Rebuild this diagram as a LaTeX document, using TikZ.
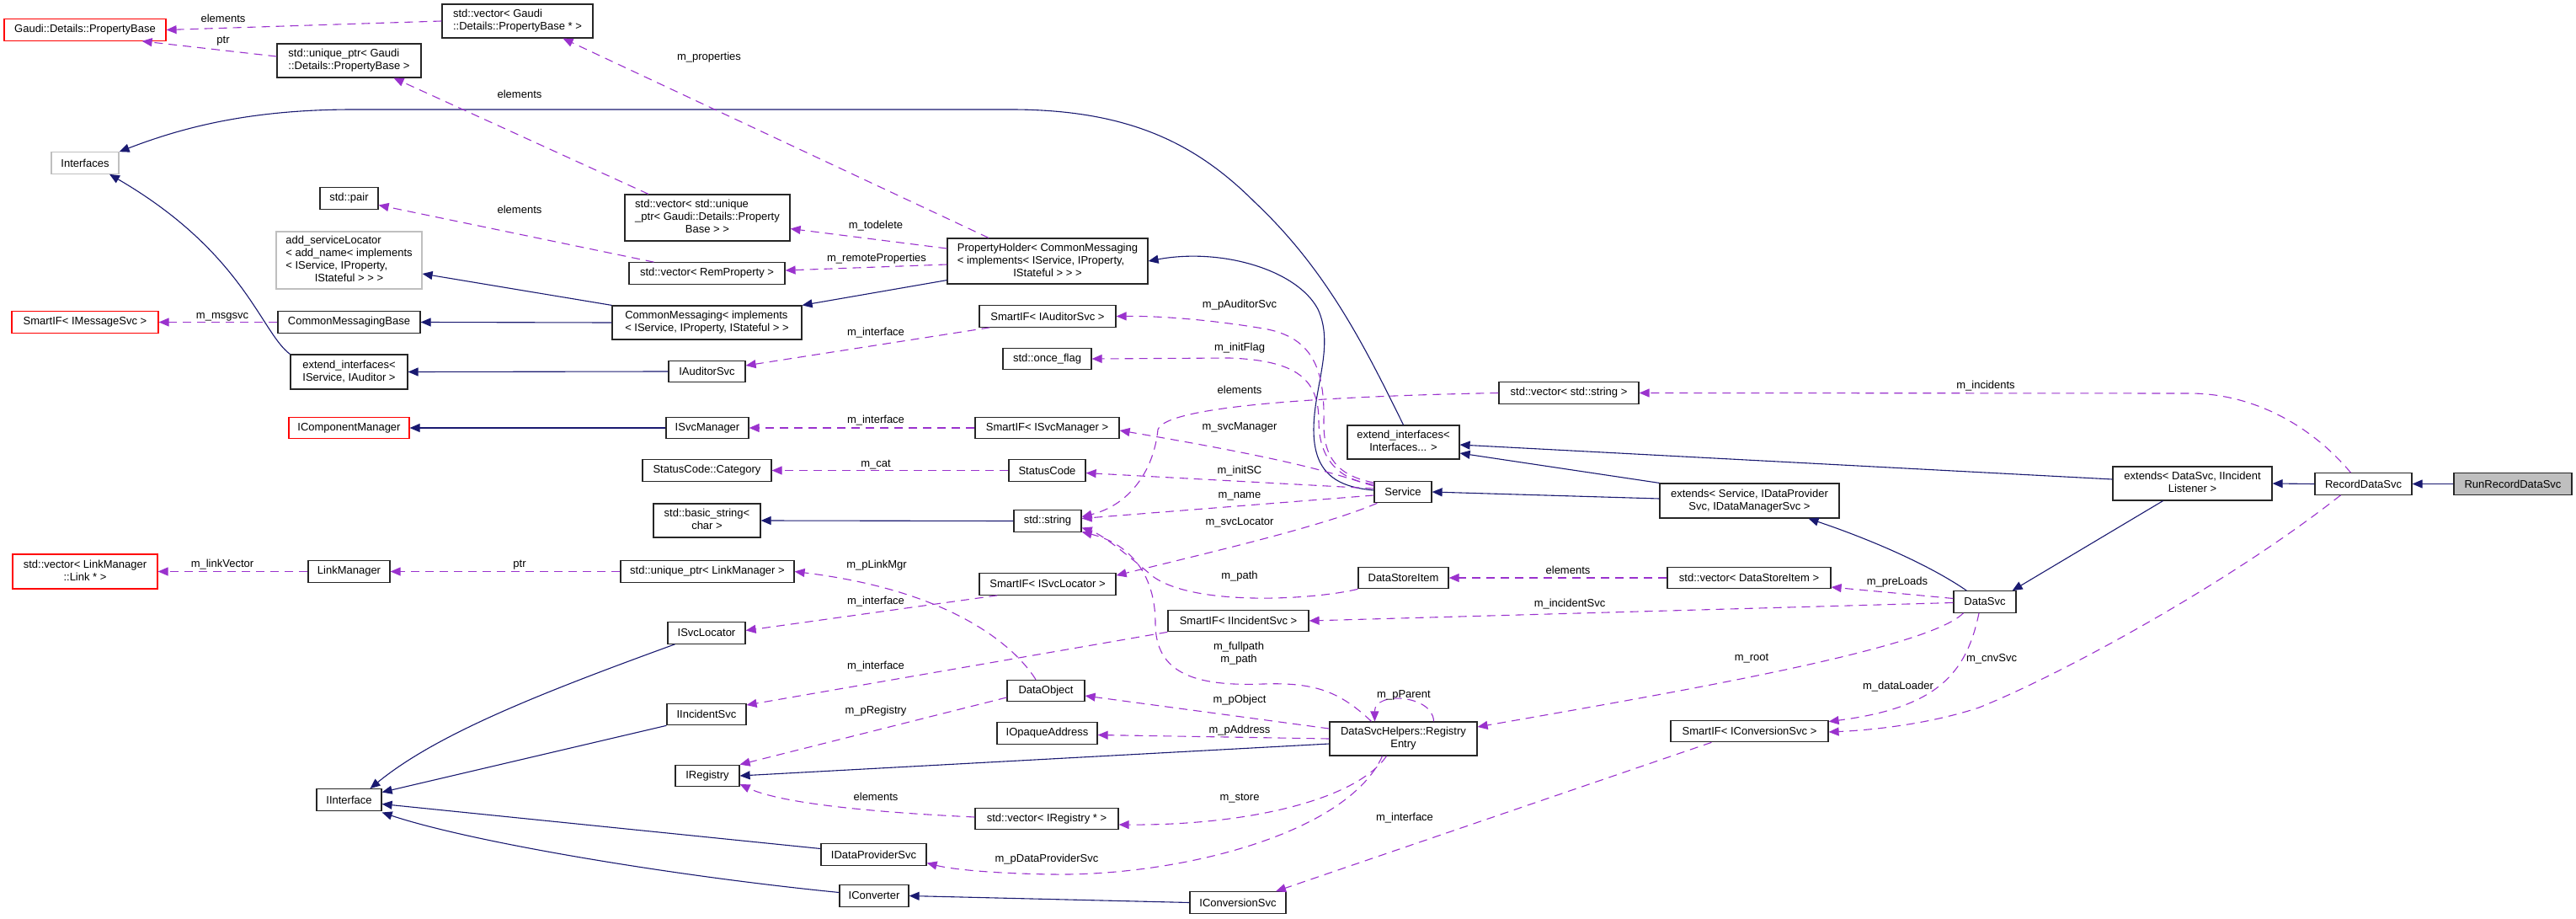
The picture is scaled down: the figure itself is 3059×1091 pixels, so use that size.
\documentclass[tikz,border=0pt]{standalone}
\usepackage{fontspec}
\setmainfont{Liberation Sans}
\usetikzlibrary{arrows.meta}
\definecolor{inhblue}{HTML}{191970}
\definecolor{usepurple}{HTML}{9A32CD}
\definecolor{nodoc}{HTML}{BFBFBF}
\definecolor{ownfill}{HTML}{BFBFBF}
% multi-line class names: lines left, last line centred
\newcommand{\lns}[1]{\begin{tabular}{@{}l@{}}#1\end{tabular}}
\newcommand{\lastln}[1]{\multicolumn{1}{@{}c@{}}{#1}}

\begin{document}
\begin{tikzpicture}[x=1pt, y=-1pt]
\tikzstyle{every node}=[font=\fontsize{13}{15}\selectfont]
\tikzstyle{cls}=[draw=black!85, line width=1.2pt, fill=white,
                 inner sep=0pt, minimum height=25.5pt]
\tikzstyle{clsred}=[cls, draw=red]
\tikzstyle{clsgray}=[cls, draw=nodoc]
\tikzstyle{lbl}=[inner sep=0pt, text height=9.5pt, text depth=3pt]
\tikzstyle{inh}=[draw=inhblue, line width=1.1pt,
                 -{Triangle[length=12pt,width=10pt]}]
\tikzstyle{usg}=[draw=usepurple, line width=1.1pt, dash pattern=on 10pt off 7pt,
                 -{Triangle[length=12pt,width=10pt]}]
\useasboundingbox (0,0) rectangle (3059,1091);

% first column
\node[clsred, minimum width=192pt] (PropBase) at (101,35.5) {Gaudi::Details::PropertyBase};
\node[clsgray, minimum width=80pt] (Interfaces) at (101,193.5) {Interfaces};
\node[clsred, minimum width=174pt] (SmartMsg) at (101,382.5) {SmartIF< IMessageSvc >};
\node[clsred, minimum width=172pt, minimum height=41pt] (VecLink) at (101,678.5)
  {\lns{std::vector< LinkManager\\\lastln{::Link * >}}};

% second column
\node[cls, minimum width=171pt, minimum height=40pt] (UPtrProp) at (414.5,72)
  {\lns{std::unique\_ptr< Gaudi\\::Details::PropertyBase >}};
\node[cls, minimum width=179pt, minimum height=40pt] (VecPropBase) at (614.5,25)
  {\lns{std::vector< Gaudi\\::Details::PropertyBase * >}};
\node[cls, minimum width=69pt] (Pair) at (414.5,235.5) {std::pair};
\node[clsgray, minimum width=173pt, minimum height=68pt] (AddSvcLoc) at (414.5,309)
  {\lns{add\_serviceLocator\\< add\_name< implements\\< IService, IProperty,\\\lastln{IStateful > > >}}};
\node[cls, minimum width=169pt] (CMBase) at (414.5,382.5) {CommonMessagingBase};
\node[cls, minimum width=139pt, minimum height=41pt] (ExtSvcAud) at (414.5,441.5)
  {\lns{extend\_interfaces<\\\lastln{IService, IAuditor >}}};
\node[clsred, minimum width=143pt] (CompMgr) at (414.5,508) {IComponentManager};
\node[cls, minimum width=97pt] (LinkMgr) at (414.5,678.5) {LinkManager};
\node[cls, minimum width=77pt] (IInterface) at (414.5,949.5) {IInterface};

% third column
\node[cls, minimum width=196pt, minimum height=55pt] (VecUPtr) at (840,258.5)
  {\lns{std::vector< std::unique\\\_ptr< Gaudi::Details::Property\\\lastln{Base > >}}};
\node[cls, minimum width=185pt] (VecRemProp) at (839.5,324.5) {std::vector< RemProperty >};
\node[cls, minimum width=225pt, minimum height=40pt] (CommonMsg) at (839.5,383)
  {\lns{CommonMessaging< implements\\< IService, IProperty, IStateful > >}};
\node[cls, minimum width=91pt] (IAuditorSvc) at (839.5,441) {IAuditorSvc};
\node[cls, minimum width=98pt] (ISvcManager) at (840,508) {ISvcManager};
\node[cls, minimum width=153pt] (StatusCat) at (839.5,558.5) {StatusCode::Category};
\node[cls, minimum width=127pt, minimum height=40pt] (BasicString) at (839.5,618)
  {\lns{std::basic\_string<\\\lastln{char >}}};
\node[cls, minimum width=206pt] (UPtrLink) at (840,678.5) {std::unique\_ptr< LinkManager >};
\node[cls, minimum width=92pt] (ISvcLocator) at (839,751.5) {ISvcLocator};
\node[cls, minimum width=94pt] (IIncidentSvc) at (839,848) {IIncidentSvc};
\node[cls, minimum width=76pt] (IRegistry) at (840,921) {IRegistry};
\node[cls, minimum width=125pt] (IDataProviderSvc) at (1037.5,1014.5) {IDataProviderSvc};
\node[cls, minimum width=82pt] (IConverter) at (1038,1063.5) {IConverter};

% fourth column
\node[cls, minimum width=238pt, minimum height=54pt] (PropHolder) at (1244,310)
  {\lns{PropertyHolder< CommonMessaging\\< implements< IService, IProperty,\\\lastln{IStateful > > >}}};
\node[cls, minimum width=162pt] (SmartAud) at (1244,375.5) {SmartIF< IAuditorSvc >};
\node[cls, minimum width=105pt] (OnceFlag) at (1243.5,426) {std::once\_flag};
\node[cls, minimum width=171pt] (SmartSvcMgr) at (1243.5,508) {SmartIF< ISvcManager >};
\node[cls, minimum width=91pt] (StatusCode) at (1243.5,558.5) {StatusCode};
\node[cls, minimum width=80pt] (StdString) at (1244,618.5) {std::string};
\node[cls, minimum width=162pt] (SmartLoc) at (1244,693.5) {SmartIF< ISvcLocator >};
\node[cls, minimum width=92pt] (DataObject) at (1242,820) {DataObject};
\node[cls, minimum width=119pt] (IOpaque) at (1243.5,870.5) {IOpaqueAddress};
\node[cls, minimum width=170pt] (VecIReg) at (1243,972) {std::vector< IRegistry * >};
\node[cls, minimum width=167pt] (SmartInc) at (1470.5,737) {SmartIF< IIncidentSvc >};
\node[cls, minimum width=114pt] (IConvSvc) at (1470,1071.5) {IConversionSvc};

% right part
\node[cls, minimum width=133pt, minimum height=40pt] (ExtIfaces) at (1666.5,525)
  {\lns{extend\_interfaces<\\\lastln{Interfaces... >}}};
\node[cls, minimum width=68pt] (Service) at (1666,584) {Service};
\node[cls, minimum width=107pt] (DataStoreItem) at (1666.5,686) {DataStoreItem};
\node[cls, minimum width=175pt, minimum height=40pt] (RegEntry) at (1666.5,877)
  {\lns{DataSvcHelpers::Registry\\\lastln{Entry}}};
\node[cls, minimum width=166pt] (VecString) at (1863,466.5) {std::vector< std::string >};
\node[cls, minimum width=213pt, minimum height=41pt] (ExtSvc) at (2077.5,594.5)
  {\lns{extends< Service, IDataProvider\\\lastln{Svc, IDataManagerSvc >}}};
\node[cls, minimum width=194pt] (VecDSI) at (2077,686) {std::vector< DataStoreItem >};
\node[cls, minimum width=187pt] (SmartCnv) at (2077.5,868) {SmartIF< IConversionSvc >};
\node[cls, minimum width=74pt] (DataSvc) at (2357,714.5) {DataSvc};
\node[cls, minimum width=189pt, minimum height=40pt] (ExtData) at (2603.5,574)
  {\lns{extends< DataSvc, IIncident\\\lastln{Listener >}}};
\node[cls, minimum width=115pt] (RecordDataSvc) at (2806.5,574.5) {RecordDataSvc};
\node[cls, fill=ownfill, minimum width=140pt] (RunRecord) at (2984,574.5) {RunRecordDataSvc};

% inheritance
\draw[inh] (ExtIfaces.north) .. controls (1620,410) and (1575,320) .. (1490,240)
  .. controls (1420,170) and (1340,130) .. (1200,130) -- (420,130)
  .. controls (300,130) and (220,150) .. (Interfaces.north east);
\draw[inh] (ExtSvcAud.north west) .. controls (310,395) and (290,300) .. ([xshift=29pt]Interfaces.south);
\draw[inh] ([yshift=5pt]PropHolder.south west) -- (CommonMsg.north east);
\draw[inh] (CommonMsg.north west) -- ([yshift=-16pt]AddSvcLoc.east);
\draw[inh] (CommonMsg.west) -- (CMBase.east);
\draw[inh] (IAuditorSvc.west) -- (ExtSvcAud.east);
\draw[inh] (ISvcManager.west) -- (CompMgr.east);
\draw[inh] ([yshift=2pt]Service.west) .. controls (1585,578) and (1560,560) .. (1560,510)
  .. controls (1560,460) and (1585,410) .. (1565,367)
  .. controls (1540,320) and (1450,294) .. (PropHolder.east);
\draw[inh] ([yshift=2.5pt]ExtSvc.west) -- (Service.east);
\draw[inh] (ExtSvc.north west) -- ([yshift=-13pt]ExtIfaces.east);
\draw[inh] ([yshift=5pt]ExtData.west) -- ([yshift=-3pt]ExtIfaces.east);
\draw[inh] ([xshift=16pt]DataSvc.north west) .. controls (2290,670) and (2220,640) .. ([xshift=70pt]ExtSvc.south);
\draw[inh] ([xshift=-35pt]ExtData.south) -- ([xshift=-5pt]DataSvc.north east);
\draw[inh] (RecordDataSvc.west) -- (ExtData.east);
\draw[inh] (RunRecord.west) -- (RecordDataSvc.east);
\draw[inh] (StdString.west) -- (BasicString.east);
\draw[inh] ([yshift=-6pt]RegEntry.west) -- (IRegistry.east);
\draw[inh] (IConvSvc.west) -- (IConverter.east);
\draw[inh] ([xshift=9pt]ISvcLocator.south west) .. controls (650,820) and (520,870) .. ([xshift=25pt]IInterface.north);
\draw[inh] (IIncidentSvc.south west) -- ([yshift=9pt]IInterface.east);
\draw[inh] ([yshift=7pt]IDataProviderSvc.west) -- ([yshift=-5pt]IInterface.east);
\draw[inh] ([yshift=4pt]IConverter.west) .. controls (800,1040) and (560,1000) .. ([yshift=-15pt]IInterface.east);

% usage, upper left
\draw[usg] (VecPropBase.west) -- (PropBase.east);
\draw[usg] ([yshift=5pt]UPtrProp.west) -- ([xshift=-29pt]PropBase.south east);
\draw[usg] ([xshift=-70pt]PropHolder.north) -- ([xshift=54pt]VecPropBase.south);
\draw[usg] ([xshift=-70pt]VecUPtr.north) -- ([xshift=53pt]UPtrProp.south);
\draw[usg] ([xshift=-63pt]VecRemProp.north) -- ([yshift=-8pt]Pair.east);
\draw[usg] ([yshift=15pt]PropHolder.west) -- ([yshift=-13pt]VecUPtr.east);
\draw[usg] ([yshift=-4pt]PropHolder.west) -- ([yshift=3.5pt]VecRemProp.east);
\draw[usg] (CMBase.west) -- (SmartMsg.east);
\draw[usg] ([xshift=13pt]SmartAud.south west) -- ([yshift=7pt]IAuditorSvc.east);
\draw[usg] (SmartSvcMgr.west) -- (ISvcManager.east);
\draw[usg] (StatusCode.west) -- (StatusCat.east);
\draw[usg] (LinkMgr.west) -- (VecLink.east);
\draw[usg] (UPtrLink.west) -- (LinkMgr.east);

% usage out of Service
\draw[usg] ([yshift=11pt]Service.west) .. controls (1590,565) and (1571,545) .. (1572,500)
  .. controls (1573,440) and (1560,400) .. (1500,390)
  .. controls (1440,380) and (1380,375) .. (SmartAud.east);
\draw[usg] ([yshift=9pt]Service.west) .. controls (1590,570) and (1566,545) .. (1566,500)
  .. controls (1566,450) and (1540,428) .. (1460,425) -- (OnceFlag.east);
\draw[usg] ([yshift=7pt]Service.west) .. controls (1590,565) and (1560,550) .. ([yshift=-3pt]SmartSvcMgr.east);
\draw[usg] ([yshift=4pt]Service.west) -- ([yshift=-3pt]StatusCode.east);
\draw[usg] ([yshift=-4pt]Service.west) -- ([yshift=3pt]StdString.east);
\draw[usg] ([xshift=4pt]Service.south west) .. controls (1570,625) and (1440,655) .. ([yshift=-3pt]SmartLoc.north east);

% strings
\draw[usg] (VecString.west) .. controls (1600,470) and (1385,480) .. (1375,510)
  .. controls (1370,560) and (1340,600) .. ([yshift=5pt]StdString.east);
\draw[usg] (DataStoreItem.south west) .. controls (1560,712) and (1420,720) .. (1370,685)
  .. controls (1340,660) and (1310,635) .. ([yshift=-8pt]StdString.east);
\draw[usg] ([xshift=-38pt]RegEntry.north) .. controls (1590,820) and (1560,810) .. (1500,812)
  .. controls (1420,815) and (1372,800) .. (1372,740)
  .. controls (1372,680) and (1340,645) .. ([yshift=-13pt]StdString.east);

% DataSvc and RecordDataSvc
\draw[usg] (VecDSI.west) -- (DataStoreItem.east);
\draw[usg] ([yshift=4pt]DataSvc.west) -- ([yshift=-11pt]VecDSI.east);
\draw[usg] ([yshift=-1pt]DataSvc.west) -- (SmartInc.east);
\draw[usg] ([xshift=-15pt]RecordDataSvc.north) .. controls (2740,500) and (2670,467) .. (2600,467) -- (VecString.east);
\draw[usg] ([xshift=-27pt]RecordDataSvc.south) .. controls (2650,690) and (2450,800) .. (2350,840)
  .. controls (2290,860) and (2220,867) .. ([yshift=-1pt]SmartCnv.east);
\draw[usg] ([xshift=12pt]DataSvc.south west) .. controls (2290,770) and (2000,820) .. ([yshift=14pt]RegEntry.east);
\draw[usg] ([xshift=-7pt]DataSvc.south) .. controls (2335,800) and (2300,840) .. ([yshift=-2pt]SmartCnv.north east);
\draw[usg] ([xshift=49pt]SmartCnv.south west) -- ([xshift=45pt]IConvSvc.north);

% registry entry
\draw[usg] ([xshift=36pt]RegEntry.north) .. controls (1702,825) and (1632,820) .. ([xshift=-34pt]RegEntry.north);
\draw[usg] ([yshift=12pt]RegEntry.west) -- ([yshift=-6pt]DataObject.east);
\draw[usg] (RegEntry.west) -- ([yshift=-2pt]IOpaque.east);
\draw[usg] ([xshift=-20pt]RegEntry.south) .. controls (1610,950) and (1480,980) .. ([yshift=-7pt]VecIReg.east);
\draw[usg] ([xshift=-25pt]RegEntry.south) .. controls (1600,990) and (1400,1040) .. (1250,1038)
  .. controls (1180,1037) and (1130,1032) .. ([yshift=-10pt]IDataProviderSvc.east);
\draw[usg] ([yshift=2pt]VecIReg.west) .. controls (1050,965) and (930,955) .. ([yshift=-10pt]IRegistry.east);
\draw[usg] ([yshift=-8pt]DataObject.west) -- (IRegistry.north east);
\draw[usg] ([xshift=-12pt]DataObject.north) .. controls (1200,760) and (1120,700) .. (UPtrLink.east);
\draw[usg] ([xshift=22pt]SmartLoc.south west) -- ([yshift=3pt]ISvcLocator.east);
\draw[usg] (SmartInc.south west) -- ([yshift=11pt]IIncidentSvc.east);

% member names
\node[lbl] (lElemPB) at (265,23) {elements};
\node[lbl] (lPtrPB) at (265,48) {ptr};
\node[lbl] (lProps) at (842,68) {m\_properties};
\node[lbl] (lElemUP) at (617,113) {elements};
\node[lbl] (lElemPair) at (617,250) {elements};
\node[lbl] (lTodelete) at (1040,268) {m\_todelete};
\node[lbl] (lRemote) at (1041,307) {m\_remoteProperties};
\node[lbl] (lMsgsvc) at (264,375) {m\_msgsvc};
\node[lbl] (lIfAud) at (1040,395) {m\_interface};
\node[lbl] (lAudSvc) at (1472,362) {m\_pAuditorSvc};
\node[lbl] (lInitFlag) at (1472,413) {m\_initFlag};
\node[lbl] (lElemStr) at (1472,464) {elements};
\node[lbl] (lIfSvcMgr) at (1040,499) {m\_interface};
\node[lbl] (lSvcMgr) at (1472,507) {m\_svcManager};
\node[lbl] (lCat) at (1040,551) {m\_cat};
\node[lbl] (lInitSC) at (1472,559) {m\_initSC};
\node[lbl] (lName) at (1472,588) {m\_name};
\node[lbl] (lSvcLoc) at (1472,620) {m\_svcLocator};
\node[lbl] (lLinkVec) at (264,670) {m\_linkVector};
\node[lbl] (lPtrLink) at (617,670) {ptr};
\node[lbl] (lLinkMgr) at (1041,671) {m\_pLinkMgr};
\node[lbl] (lPath) at (1472,684) {m\_path};
\node[lbl] (lElemDSI) at (1862,678) {elements};
\node[lbl] (lPreLoads) at (2253,691) {m\_preLoads};
\node[lbl] (lIfLoc) at (1040,714) {m\_interface};
\node[lbl] (lIncSvc) at (1864,717) {m\_incidentSvc};
\node[lbl] (lIncidents) at (2358,458) {m\_incidents};
\node[align=center, inner sep=0pt] (lFullPath) at (1471,776) {m\_fullpath\\m\_path};
\node[lbl] (lRoot) at (2080,781) {m\_root};
\node[lbl] (lCnvSvc) at (2365,782) {m\_cnvSvc};
\node[lbl] (lIfInc) at (1040,791) {m\_interface};
\node[lbl] (lDataLoader) at (2254,815) {m\_dataLoader};
\node[lbl] (lParent) at (1667,825) {m\_pParent};
\node[lbl] (lObject) at (1472,831) {m\_pObject};
\node[lbl] (lRegistry) at (1040,844) {m\_pRegistry};
\node[lbl] (lAddress) at (1472,867) {m\_pAddress};
\node[lbl] (lStore) at (1472,947) {m\_store};
\node[lbl] (lElemReg) at (1040,947) {elements};
\node[lbl] (lIfCnv) at (1668,971) {m\_interface};
\node[lbl] (lDPSvc) at (1243,1020) {m\_pDataProviderSvc};
\end{tikzpicture}
\end{document}
